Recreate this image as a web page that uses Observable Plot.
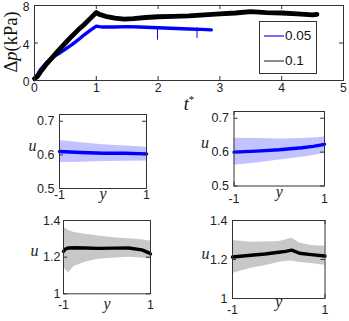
<!DOCTYPE html>
<html><head><meta charset="utf-8">
<script src="https://cdn.jsdelivr.net/npm/d3@7"></script>
<script src="https://cdn.jsdelivr.net/npm/@observablehq/plot@0.6"></script>
<style>
html,body{margin:0;padding:0;background:#fff;}
#root{position:relative;width:349px;height:321px;overflow:hidden;background:#fff;}
#root svg{position:absolute;left:0;top:0;}
.ttl{position:absolute;font-family:"Liberation Serif","Times New Roman",serif;color:#111;white-space:nowrap;line-height:1;}
#legend{position:absolute;left:259px;top:21px;width:56px;height:51px;border:1px solid #333;background:#fff;font-family:"Liberation Sans",Arial,sans-serif;font-size:13.5px;color:#111;}
#legend .ln{position:absolute;left:4px;width:20px;height:1.5px;}
#legend .tx{position:absolute;left:25px;line-height:1;}
</style></head><body><div id="root"></div>
<script>
// ---- top panel: pressure drop vs t* ----
const tBlack = [0,0.05,0.1,0.2,0.3,0.4,0.5,0.6,0.7,0.8,0.9,1.0,1.05,1.15,1.3,1.45,1.6,1.8,2.0,2.25,2.5,2.75,3.0,3.25,3.5,3.75,4.0,4.25,4.5,4.57];
const pBlack = [0.2,0.45,0.95,1.8,2.55,3.3,4.0,4.7,5.35,5.95,6.6,7.25,7.05,6.85,6.65,6.55,6.6,6.72,6.8,6.85,6.9,7.0,7.1,7.2,7.35,7.25,7.2,7.1,7.0,7.05];
const tBlue = [0,0.05,0.1,0.2,0.3,0.4,0.5,0.6,0.7,0.8,0.9,1.0,1.1,1.3,1.5,1.7,1.9,2.1,2.3,2.5,2.7,2.86];
const pBlue = [0.1,0.65,1.2,1.95,2.5,2.9,3.35,3.8,4.3,4.85,5.35,5.8,5.7,5.7,5.75,5.7,5.65,5.6,5.55,5.5,5.45,5.4];
const spikeT = [1.99,2.63];
const spikeLo = [4.3,4.5];
const spikeHi = [5.7,5.6];
const legendLabels = ["0.05","0.1"];

// ---- profile panels: u vs y (mean and spread) ----
const yA = [-1,-0.5,0,0.5,1];
const meanA = [0.610,0.607,0.605,0.605,0.603];
const hiA = [0.643,0.636,0.630,0.626,0.623];
const loA = [0.577,0.578,0.580,0.581,0.582];

const yB = [-1,-0.5,0,0.5,0.75,1];
const meanB = [0.600,0.603,0.607,0.613,0.617,0.623];
const hiB = [0.641,0.640,0.639,0.640,0.642,0.645];
const loB = [0.561,0.568,0.577,0.585,0.590,0.597];

const yC = [-1,-0.95,-0.88,-0.75,-0.5,-0.2,0.2,0.5,0.8,0.95,1];
const meanC = [1.231,1.245,1.250,1.251,1.250,1.248,1.249,1.250,1.240,1.225,1.218];
const hiC = [1.365,1.355,1.345,1.335,1.325,1.315,1.305,1.300,1.295,1.290,1.288];
const loC = [1.155,1.130,1.115,1.150,1.172,1.188,1.195,1.200,1.195,1.190,1.190];

const yD = [-1,-0.6,-0.3,0,0.15,0.28,0.45,0.7,1];
const meanD = [1.213,1.222,1.228,1.237,1.242,1.248,1.232,1.225,1.218];
const hiD = [1.298,1.288,1.290,1.292,1.300,1.310,1.285,1.272,1.268];
const loD = [1.128,1.155,1.168,1.185,1.190,1.192,1.185,1.180,1.170];

const tTicks = [0,1,2,3,4,5];
const pTicks = [0,4,8];
const yTicks = [-1,1];
const uTicksLow = [0.5,0.6,0.7];
const uTicksHigh = [1,1.2,1.4];

const W = 349, H = 321;
const BLUE = "#0000ff", BAND_BLUE = "#c2c2ff", BAND_GRAY = "#c8c8c8", AX = "#333";

function panel(o) {
  const h = o.bottom - o.top, w = o.right - o.left, tl = o.tick || 4;
  return Plot.plot({
    width: W, height: H,
    marginLeft: o.left, marginRight: W - o.right, marginTop: o.top, marginBottom: H - o.bottom,
    x: {domain: o.xDomain}, y: {domain: o.yDomain},
    style: {background: "transparent", fontFamily: "'Liberation Sans', Arial, sans-serif", fontSize: o.fs + "px", color: "#222", overflow: "visible"},
    marks: [
      ...o.marks,
      Plot.tickX(o.xTicks, {x: d => d, insetTop: h - tl, stroke: AX}),
      Plot.tickX(o.xTicks, {x: d => d, insetBottom: h - tl, stroke: AX}),
      Plot.tickY(o.yTicks, {y: d => d, insetRight: w - tl, stroke: AX}),
      Plot.tickY(o.yTicks, {y: d => d, insetLeft: w - tl, stroke: AX}),
      Plot.frame({stroke: AX}),
      Plot.axisX({ticks: o.xTicks, tickSize: 0, tickPadding: o.xPad, tickFormat: o.xFmt, label: null}),
      Plot.axisY({ticks: o.yTicks, tickSize: 0, tickPadding: o.yPad, tickFormat: o.yFmt, label: null, dy: o.yDyTick || 0}),
      ...(o.labels || [])
    ]
  });
}

const blackData = tBlack.map((t, i) => ({t, p: pBlack[i]}));
const blueData = tBlue.map((t, i) => ({t, p: pBlue[i]}));
const spikeData = spikeT.map((t, i) => ({t, lo: spikeLo[i], hi: spikeHi[i]}));

const root = document.getElementById("root");

root.append(panel({
  left: 34, right: 343, top: 5, bottom: 80,
  xDomain: [0, 5], yDomain: [0, 8], xTicks: tTicks, yTicks: pTicks,
  xPad: 3, yPad: 5, yDyTick: 2, fs: 12.2, xFmt: d => String(d), yFmt: d => String(d),
  marks: [
    Plot.line(blueData, {x: "t", y: "p", stroke: BLUE, strokeWidth: 3.4}),
    Plot.ruleX(spikeData, {x: "t", y1: "lo", y2: "hi", stroke: BLUE, strokeWidth: 1}),
    Plot.line(blackData, {x: "t", y: "p", stroke: "#000", strokeWidth: 4.8})
  ]
}));

function profile(o, ys, mean, hi, lo, band, line) {
  const data = ys.map((y, i) => ({y, m: mean[i], hi: hi[i], lo: lo[i]}));
  return panel({
    ...o, xDomain: [-1, 1], xTicks: yTicks, fs: 12.5,
    xFmt: d => String(d), yFmt: d => String(d),
    marks: [
      Plot.areaY(data, {x: "y", y1: "lo", y2: "hi", fill: band}),
      Plot.line(data, {x: "y", y: "m", stroke: line, strokeWidth: 3.4})
    ],
    labels: [
      Plot.text(["u"], {frameAnchor: "left", dx: o.uDx, dy: -6, fontFamily: "'Liberation Serif', serif", fontStyle: "italic", fontSize: 16}),
      Plot.text(["y"], {frameAnchor: "bottom", dy: o.yDy, fontFamily: "'Liberation Serif', serif", fontStyle: "italic", fontSize: 16})
    ]
  });
}

root.append(profile({left: 59, right: 146, top: 114, bottom: 188, yDomain: [0.5, 0.72], yTicks: uTicksLow, xPad: 2, yPad: 5, uDx: -31, yDy: 10}, yA, meanA, hiA, loA, BAND_BLUE, BLUE));
root.append(profile({left: 233.5, right: 324, top: 111, bottom: 185.5, yDomain: [0.5, 0.72], yTicks: uTicksLow, xPad: 8, yPad: 5, uDx: -33, yDy: 11}, yB, meanB, hiB, loB, BAND_BLUE, BLUE));
root.append(profile({left: 63, right: 150, top: 220, bottom: 293.3, yDomain: [1, 1.4], yTicks: uTicksHigh, xPad: 6, yPad: 3, uDx: -33, yDy: 15}, yC, meanC, hiC, loC, BAND_GRAY, "#000"));
root.append(profile({left: 232, right: 324.5, top: 220, bottom: 298, yDomain: [1, 1.4], yTicks: uTicksHigh, xPad: 7, yPad: 5, uDx: -31, yDy: 8}, yD, meanD, hiD, loD, BAND_GRAY, "#000"));

// axis titles of the top panel
const ylab = document.createElement("div");
ylab.className = "ttl";
ylab.style.cssText = "left:11px;top:42px;font-size:18.5px;transform:translate(-50%,-50%) rotate(-90deg);";
ylab.innerHTML = "Δ<i>p</i>(kPa)";
root.append(ylab);

const tlab = document.createElement("div");
tlab.className = "ttl";
tlab.style.cssText = "left:189px;top:103px;font-size:18px;transform:translate(-50%,-50%);";
tlab.innerHTML = "<i>t</i><sup style='font-size:11px;vertical-align:7px'>*</sup>";
root.append(tlab);

// legend
const leg = document.createElement("div");
leg.id = "legend";
const legColors = ["#6f6fff", "#8a8a8a"];
const legY = [13, 38];
legendLabels.forEach((lab, i) => {
  const ln = document.createElement("div");
  ln.className = "ln";
  ln.style.top = legY[i] + "px";
  ln.style.background = legColors[i];
  const tx = document.createElement("div");
  tx.className = "tx";
  tx.style.top = (legY[i] - 6) + "px";
  tx.textContent = lab;
  leg.append(ln, tx);
});
root.append(leg);
</script>
</body></html>
